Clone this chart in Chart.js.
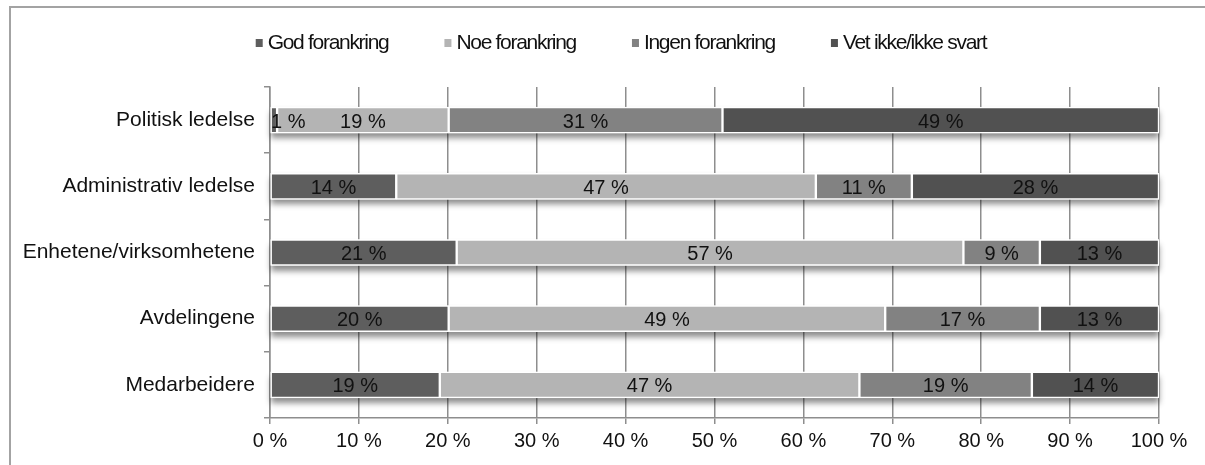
<!DOCTYPE html>
<html>
<head>
<meta charset="utf-8">
<script src="https://cdn.jsdelivr.net/npm/chart.js@4/dist/chart.umd.min.js"></script>
<style>
  html, body { margin: 0; padding: 0; background: #fff; }
  #wrap { width: 1205px; height: 465px; position: relative; }
</style>
</head>
<body>
<div id="wrap"><canvas id="forankring"></canvas></div>
<script>
const categories = ['Politisk ledelse', 'Administrativ ledelse', 'Enhetene/virksomhetene', 'Avdelingene', 'Medarbeidere'];
const seriesNames = ['God forankring', 'Noe forankring', 'Ingen forankring', 'Vet ikke/ikke svart'];

// share in % (labels are rounded)
const godData = [0.8, 14.2, 21.0, 20.1, 19.1];
const noeData = [19.3, 47.2, 57.0, 49.1, 47.2];
const ingenData = [30.8, 10.8, 8.6, 17.4, 19.4];
const vetData = [49.1, 27.8, 13.4, 13.4, 14.3];

const xTicks = [0, 10, 20, 30, 40, 50, 60, 70, 80, 90, 100];
const colors = ['#5e5e5e', '#b4b4b4', '#828282', '#515151'];

const gridGray = '#8e8e8e';
const fontFamily = '"Liberation Sans", Arial, sans-serif';

// outer frame of the figure
const framePlugin = {
  id: 'frame',
  beforeDraw(chart) {
    const ctx = chart.ctx;
    ctx.save();
    ctx.strokeStyle = '#a3a3a3';
    ctx.lineWidth = 2;
    ctx.beginPath();
    ctx.moveTo(10, 470);
    ctx.lineTo(10, 7);
    ctx.lineTo(1210, 7);
    ctx.stroke();
    ctx.restore();
  }
};

// legend drawn by hand, text is set tight like the original
const legendPlugin = {
  id: 'tightLegend',
  afterDraw(chart) {
    const ctx = chart.ctx;
    const sets = chart.data.datasets;
    ctx.save();
    ctx.font = '21px ' + fontFamily;
    ctx.letterSpacing = '-1.3px';
    ctx.textBaseline = 'middle';
    ctx.fillStyle = '#111';
    const box = 7, gapText = 5, gapItem = 56;
    const widths = sets.map(ds => ctx.measureText(ds.label).width);
    const total = widths.reduce((a, w) => a + box + gapText + w, 0) + gapItem * (sets.length - 1);
    let x = 621 - total / 2;
    const y = 43;
    sets.forEach((ds, i) => {
      ctx.fillStyle = ds.backgroundColor;
      ctx.fillRect(x, y - 4, box, 8);
      ctx.fillStyle = '#111';
      ctx.fillText(ds.label, x + box + gapText, y);
      x += box + gapText + widths[i] + gapItem;
    });
    ctx.restore();
  }
};

// soft shadow under every bar row
const shadowPlugin = {
  id: 'barShadow',
  beforeDatasetsDraw(chart) {
    const ctx = chart.ctx;
    const first = chart.getDatasetMeta(0).data;
    const last = chart.getDatasetMeta(chart.data.datasets.length - 1).data;
    ctx.save();
    ctx.shadowColor = 'rgba(0,0,0,0.45)';
    ctx.shadowBlur = 6;
    ctx.shadowOffsetY = 5;
    ctx.fillStyle = '#fff';
    first.forEach((el, i) => {
      const x0 = el.base;
      const x1 = last[i].x;
      const h = el.height;
      ctx.fillRect(x0, el.y - h / 2, x1 - x0, h);
    });
    ctx.restore();
  }
};

// value labels centered in each segment
const labelPlugin = {
  id: 'segLabels',
  afterDatasetsDraw(chart) {
    const ctx = chart.ctx;
    const area = chart.chartArea;
    ctx.save();
    ctx.font = '20px ' + fontFamily;
    ctx.fillStyle = '#111';
    ctx.textAlign = 'center';
    ctx.textBaseline = 'middle';
    chart.data.datasets.forEach((ds, di) => {
      chart.getDatasetMeta(di).data.forEach((el, i) => {
        const txt = Math.round(ds.data[i]) + ' %';
        const w = ctx.measureText(txt).width;
        let cx = (el.x + el.base) / 2;
        if (cx - w / 2 < area.left + 1) cx = area.left + 1 + w / 2;
        ctx.fillText(txt, cx, el.y + 2);
      });
    });
    ctx.restore();
  }
};

const allSeries = [godData, noeData, ingenData, vetData];

new Chart(document.getElementById('forankring'), {
  type: 'bar',
  data: {
    labels: categories,
    datasets: allSeries.map((d, i) => ({
      label: seriesNames[i],
      data: d,
      backgroundColor: colors[i],
      borderColor: '#ffffff',
      borderWidth: 1.5,
      borderSkipped: false,
      barThickness: 26
    }))
  },
  options: {
    indexAxis: 'y',
    responsive: true,
    maintainAspectRatio: false,
    animation: false,
    layout: { padding: { left: 10, right: 46, top: 87, bottom: 0 } },
    plugins: {
      tooltip: { enabled: false },
      legend: { display: false }
    },
    scales: {
      x: {
        stacked: true,
        min: 0,
        max: 100,
        afterBuildTicks(scale) {
          scale.ticks = xTicks.map(v => ({ value: v }));
        },
        afterFit(scale) { scale.height = 47; },
        ticks: {
          color: '#111',
          padding: 5,
          font: { family: fontFamily, size: 20 },
          callback: v => v + ' %'
        },
        grid: { color: gridGray, lineWidth: 1.5, tickLength: 6 },
        border: { color: gridGray, width: 1.5 }
      },
      y: {
        stacked: true,
        afterFit(scale) { scale.width = 260; },
        ticks: {
          color: '#111',
          padding: 9,
          font: { family: fontFamily, size: 21 }
        },
        grid: { color: gridGray, lineWidth: 1.5, drawOnChartArea: false, tickLength: 6, offset: true },
        border: { color: gridGray, width: 1.5 }
      }
    }
  },
  plugins: [framePlugin, shadowPlugin, labelPlugin, legendPlugin]
});
</script>
</body>
</html>
